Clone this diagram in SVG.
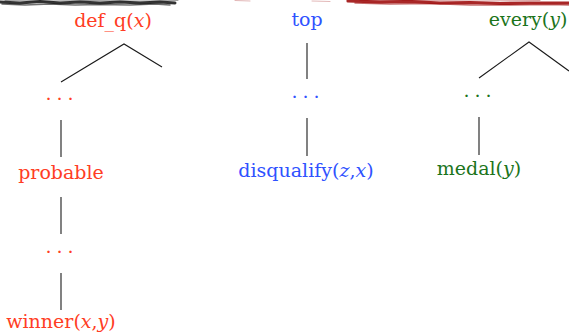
<svg xmlns="http://www.w3.org/2000/svg" width="569" height="336" viewBox="0 0 569 336">
<style>
text{font-family:"DejaVu Serif","Liberation Serif",serif;font-size:19px;text-anchor:middle}
.r{fill:#ff3d24}.b{fill:#2f52ff}.g{fill:#1b741b}
.i{font-style:italic}
.d{letter-spacing:5px}
.e{stroke:#1a1a1a;stroke-width:1.1;fill:none}
.sk{stroke:#111;fill:none;stroke-linecap:round}
.sr{stroke:#a01010;fill:none;stroke-linecap:round}
</style>
<g id="scribble">
<path class="sk" stroke-width="3" opacity="0.85" d="M0,2 L20,3 L40,1.5 L60,3 L80,2 L100,3 L120,2 L140,3 L160,2 L175,3"/>
<path class="sk" stroke-width="1.5" opacity="0.6" d="M2,4 L25,5 L50,4 L75,5 L100,4.5 L130,5 L155,4 L170,5"/>
<path class="sk" stroke-width="1" opacity="0.4" d="M5,0.5 L45,1 L90,0.5 L140,1 L178,0.5"/>
<path class="sr" stroke-width="1" opacity="0.3" d="M235,0.5 L250,1 M312,1 L330,1.5"/>
<path class="sr" stroke-width="3.2" opacity="0.9" d="M348,1 L380,2 L410,1.5 L440,3 L470,2.5 L500,3.5 L530,3 L569,3"/>
<path class="sr" stroke-width="1.5" opacity="0.6" d="M355,3 L390,4 L430,3.5 L470,5 L510,5 L550,4.5 L569,5"/>
<path class="sr" stroke-width="1" opacity="0.4" d="M360,0.5 L420,0.5 L480,1 L540,0.5"/>
</g>
<g id="edges">
<path class="e" d="M61,82 L124,44 L162,67"/>
<path class="e" d="M61,120 V157"/>
<path class="e" d="M61,197 V234"/>
<path class="e" d="M61,273 V310"/>
<path class="e" d="M307,43 V79"/>
<path class="e" d="M307,118 V156"/>
<path class="e" d="M479,78 L529,42 L569,71"/>
<path class="e" d="M479,117 V155"/>
</g>
<g id="n-defq"><text class="r" x="113" y="27">def_q(<tspan class="i">x</tspan>)</text></g>
<g id="n-dots1"><text class="r d" x="62" y="100">...</text></g>
<g id="n-probable"><text class="r" x="61" y="179">probable</text></g>
<g id="n-dots2"><text class="r d" x="62" y="253">...</text></g>
<g id="n-winner"><text class="r" x="61" y="328">winner(<tspan class="i">x</tspan>,<tspan class="i">y</tspan>)</text></g>
<g id="n-top"><text class="b" x="307" y="26">top</text></g>
<g id="n-dots3"><text class="b d" x="308" y="98">...</text></g>
<g id="n-disq"><text class="b" x="306" y="177">disqualify(<tspan class="i">z</tspan>,<tspan class="i">x</tspan>)</text></g>
<g id="n-every"><text class="g" x="528" y="26">every(<tspan class="i">y</tspan>)</text></g>
<g id="n-dots4"><text class="g d" x="480" y="97">...</text></g>
<g id="n-medal"><text class="g" x="479" y="175">medal(<tspan class="i">y</tspan>)</text></g>
</svg>
